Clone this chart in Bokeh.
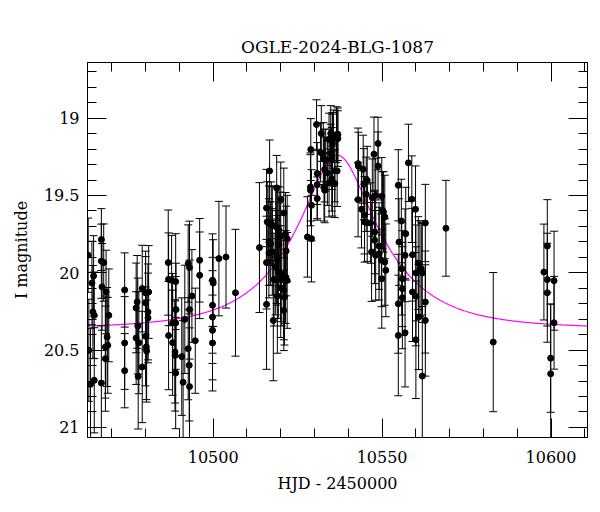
import numpy as np
from bokeh.plotting import figure
from bokeh.models import (Range1d, LinearAxis, FixedTicker, ColumnDataSource)
from bokeh.embed import file_html
from bokeh.resources import INLINE

title_text = "OGLE-2024-BLG-1087"
x_label = "HJD - 2450000"
y_label = "I magnitude"

hjd = [
    10463.0, 10464.1, 10464.6, 10464.4, 10464.8, 10463.2, 10463.7, 10464.8, 10466.9, 10466.9,
    10467.6, 10467.1, 10468.3, 10469.1, 10468.6, 10468.8, 10468.1, 10468.1, 10466.9,
    10473.8, 10473.8, 10473.8, 10477.2, 10477.5, 10479.0, 10480.0, 10480.9, 10477.7, 10477.2,
    10478.0, 10480.7, 10480.7, 10479.0, 10477.8, 10480.0, 10480.0, 10480.2, 10480.3,
    10486.7, 10486.8, 10487.7, 10488.9, 10489.0, 10488.0, 10488.9, 10486.8, 10488.0, 10488.7,
    10488.7, 10488.9, 10490.7, 10491.1, 10491.6, 10492.6, 10493.0, 10493.0, 10493.7, 10492.6,
    10492.9, 10493.0, 10494.7, 10496.0, 10496.0,
    10499.8, 10500.0, 10499.8, 10499.8, 10499.8, 10499.8, 10501.7, 10503.8, 10506.6, 10513.7,
    10515.8, 10516.7, 10516.0, 10516.5, 10517.2, 10517.5, 10516.5, 10517.0, 10515.8, 10516.5,
    10517.5, 10515.8, 10517.8, 10518.0, 10518.8, 10518.5, 10519.0, 10519.5, 10519.8, 10519.5,
    10518.8, 10519.0, 10518.5, 10519.3, 10519.0, 10520.0, 10520.0, 10520.3, 10520.0, 10520.9,
    10521.4, 10521.9, 10521.6, 10521.4, 10521.9, 10520.9, 10521.1, 10520.9,
    10527.9, 10529.1, 10528.9, 10528.8, 10528.8, 10529.1, 10530.6, 10530.8, 10530.8, 10530.8,
    10532.0, 10531.8, 10532.6, 10532.8, 10533.3, 10533.0, 10532.8, 10533.0, 10534.3, 10534.8,
    10535.3, 10535.6, 10535.3, 10534.8, 10535.1, 10533.8, 10535.1, 10534.3, 10535.3, 10536.0,
    10536.0, 10536.7, 10536.5, 10536.9, 10536.9,
    10542.9, 10543.0, 10542.9, 10543.9, 10544.4, 10544.6, 10544.8, 10544.8, 10545.6, 10545.3,
    10545.6, 10546.6, 10547.1, 10547.6, 10548.8, 10548.8, 10548.1, 10546.9, 10547.8, 10547.8,
    10548.1, 10549.1, 10549.1, 10549.9, 10550.1, 10550.4, 10550.8, 10549.8, 10550.8, 10551.1,
    10549.9,
    10554.8, 10555.7, 10555.0, 10557.0, 10556.8, 10555.8, 10556.0, 10556.0, 10556.0, 10554.8,
    10554.8, 10556.8, 10557.8, 10558.8, 10559.0, 10559.0, 10559.9, 10560.0, 10560.0, 10560.0,
    10560.7, 10561.2, 10561.6, 10561.9, 10560.8, 10561.9, 10562.8, 10562.8, 10562.8, 10568.9,
    10582.9, 10597.9, 10598.9, 10598.9, 10598.9, 10599.9, 10599.9, 10600.9, 10600.9,
]

mag = [
    19.886, 20.066, 20.020, 20.253, 20.275, 20.501, 20.721, 20.695, 19.785, 19.925,
    19.934, 20.091, 20.124, 20.275, 20.415, 20.469, 20.480, 20.555, 20.713,
    20.111, 20.454, 20.633, 20.227, 20.188, 20.102, 20.130, 20.124, 20.344, 20.422,
    20.452, 20.253, 20.292, 20.609, 20.670, 20.195, 20.411, 20.480, 20.506,
    19.934, 20.042, 20.048, 20.057, 20.238, 20.324, 20.324, 20.406, 20.452, 20.512,
    20.534, 20.648, 20.542, 20.708, 20.301, 19.940, 19.966, 20.238, 20.150, 20.491,
    20.598, 20.736, 20.439, 19.919, 20.016,
    20.048, 20.066, 20.210, 20.286, 20.372, 20.454, 19.908, 19.898, 20.129, 19.837,
    19.581, 19.341, 19.671, 19.678, 19.682, 19.693, 19.801, 19.811, 19.934, 19.872,
    19.865, 20.204, 20.308, 20.044, 19.451, 19.699, 19.710, 19.725, 19.768, 19.818,
    19.898, 19.919, 19.962, 19.995, 20.150, 19.524, 20.006, 20.044, 20.098, 19.613,
    19.751, 19.779, 19.859, 20.027, 20.049, 20.113, 20.157, 20.243,
    19.768, 19.779, 19.203, 19.445, 19.466, 19.563, 19.041, 19.358, 19.430, 19.520,
    19.099, 19.222, 19.229, 19.261, 19.272, 19.332, 19.445, 19.466, 19.138, 19.099,
    19.143, 19.117, 19.164, 19.229, 19.261, 19.354, 19.391, 19.419, 19.423, 19.423,
    19.341, 19.341, 19.106, 19.104, 19.132,
    19.294, 19.311, 19.527, 19.589, 19.330, 19.427, 19.628, 19.671, 19.402, 19.492,
    19.676, 19.678, 19.514, 19.233, 19.164, 19.309, 19.499, 19.865, 19.736, 19.790,
    19.887, 19.876, 19.827, 19.505, 19.596, 19.606, 19.639, 19.919, 19.930, 19.984,
    20.038,
    19.434, 19.665, 19.801, 19.747, 19.887, 19.973, 20.038, 20.103, 20.161, 20.200,
    20.405, 20.388, 19.289, 19.524, 19.883, 20.124, 19.589, 20.001, 20.152, 20.433,
    19.937, 19.973, 19.973, 20.001, 20.286, 20.668, 19.678, 20.189, 20.308, 19.712,
    20.448, 19.995, 19.827, 20.044, 20.129, 20.552, 20.653, 20.051, 20.323,
]

err = [
    0.24, 0.27, 0.26, 0.30, 0.28, 0.33, 0.36, 0.34, 0.20, 0.24,
    0.25, 0.28, 0.27, 0.30, 0.32, 0.31, 0.33, 0.34, 0.37,
    0.24, 0.30, 0.24, 0.29, 0.30, 0.28, 0.27, 0.30, 0.31, 0.30,
    0.33, 0.31, 0.29, 0.36, 0.34, 0.30, 0.32, 0.34, 0.33,
    0.34, 0.30, 0.29, 0.31, 0.30, 0.32, 0.30, 0.35, 0.34, 0.33,
    0.36, 0.36, 0.38, 0.40, 0.35, 0.25, 0.30, 0.32, 0.30, 0.33,
    0.36, 0.38, 0.34, 0.27, 0.28,
    0.30, 0.28, 0.31, 0.30, 0.32, 0.31, 0.37, 0.33, 0.41, 0.42,
    0.25, 0.20, 0.26, 0.24, 0.27, 0.25, 0.28, 0.27, 0.30, 0.29,
    0.28, 0.42, 0.39, 0.30, 0.21, 0.26, 0.27, 0.28, 0.29, 0.27,
    0.30, 0.29, 0.31, 0.30, 0.37, 0.24, 0.31, 0.30, 0.32, 0.29,
    0.27, 0.28, 0.29, 0.30, 0.31, 0.32, 0.31, 0.26,
    0.26, 0.28, 0.20, 0.22, 0.23, 0.23, 0.16, 0.20, 0.22, 0.14,
    0.18, 0.19, 0.20, 0.19, 0.20, 0.21, 0.22, 0.21, 0.17, 0.18,
    0.18, 0.17, 0.19, 0.19, 0.20, 0.21, 0.21, 0.22, 0.21, 0.22,
    0.20, 0.23, 0.18, 0.17, 0.18,
    0.23, 0.22, 0.24, 0.25, 0.22, 0.23, 0.25, 0.26, 0.22, 0.24,
    0.25, 0.26, 0.25, 0.24, 0.17, 0.22, 0.24, 0.32, 0.27, 0.28,
    0.29, 0.30, 0.28, 0.25, 0.25, 0.26, 0.27, 0.30, 0.28, 0.30,
    0.32,
    0.23, 0.27, 0.28, 0.30, 0.30, 0.30, 0.31, 0.30, 0.33, 0.32,
    0.39, 0.35, 0.25, 0.28, 0.30, 0.32, 0.28, 0.31, 0.32, 0.38,
    0.30, 0.31, 0.30, 0.32, 0.34, 0.45, 0.25, 0.33, 0.36, 0.31,
    0.45, 0.31, 0.30, 0.30, 0.32, 0.35, 0.45, 0.32, 0.30,
]

# Point-lens (Paczynski) model parameters
t0 = 10536.8
tE = 24.0
u0 = 0.375
I0 = 20.36
fs = 1.0

x_major = [10500, 10550, 10600]
x_minor = list(range(10460, 10620, 10))
y_major = [19, 19.5, 20, 20.5, 21]
y_minor = [round(18.6 + 0.1 * i, 1) for i in range(26)]

hjd_a = np.array(hjd)
mag_a = np.array(mag)
err_a = np.array(err)
src = ColumnDataSource(dict(x=hjd_a, y=mag_a, lo=mag_a + err_a, hi=mag_a - err_a))

tm = np.linspace(10455, 10620, 800)
u = np.sqrt(u0 ** 2 + ((tm - t0) / tE) ** 2)
A = (u ** 2 + 2) / (u * np.sqrt(u ** 2 + 4))
model_mag = I0 - 2.5 * np.log10(fs * A + 1 - fs)

FONT = "DejaVu Serif"

p = figure(width=600, height=512, output_backend="svg", toolbar_location=None,
           x_range=Range1d(10462.8, 10610.8), y_range=Range1d(21.065, 18.64),
           min_border_left=87, min_border_right=13, min_border_top=62, min_border_bottom=75,
           background_fill_color="white", border_fill_color="white")
p.grid.visible = False
p.outline_line_color = "black"
p.outline_line_width = 1

p.title.text = title_text
p.title.align = "center"
p.title.vertical_align = "top"
p.title.text_font = FONT
p.title.text_font_style = "normal"
p.title.text_font_size = "17px"
p.title.text_color = "black"
p.title.standoff = 7

xt = FixedTicker(ticks=x_major, minor_ticks=x_minor)
yt = FixedTicker(ticks=y_major, minor_ticks=y_minor)


def style(ax, labels=True):
    ax.major_tick_in = 19
    ax.major_tick_out = 0
    ax.minor_tick_in = 9
    ax.minor_tick_out = 0
    ax.major_tick_line_color = "black"
    ax.minor_tick_line_color = "black"
    ax.axis_line_color = "black"
    ax.major_label_text_font = FONT
    ax.axis_label_text_font = FONT
    ax.axis_label_text_font_style = "normal"
    ax.axis_label_text_color = "black"
    ax.axis_label_text_font_size = "16px"
    if labels:
        ax.major_label_text_font_size = "16px"
        ax.major_label_text_color = "black"
    else:
        # frame-only axis: ticks drawn, tick labels not drawn
        ax.major_label_text_font_size = "1px"
        ax.major_label_text_color = None
        ax.major_label_standoff = 0


p.xaxis.ticker = xt
p.yaxis.ticker = yt
style(p.xaxis[0])
style(p.yaxis[0])
p.xaxis.axis_label = x_label
p.yaxis.axis_label = y_label
p.xaxis.major_label_standoff = 13
p.yaxis.major_label_standoff = 8
p.xaxis.axis_label_standoff = 8
p.yaxis.axis_label_standoff = 10
p.yaxis.major_label_orientation = "horizontal"

ax_top = LinearAxis(ticker=xt)
style(ax_top, labels=False)
p.add_layout(ax_top, "above")
ax_right = LinearAxis(ticker=yt)
style(ax_right, labels=False)
p.add_layout(ax_right, "right")

p.line(tm, model_mag, line_color="#ff00ff", line_width=1.2)
p.segment(x0="x", y0="lo", x1="x", y1="hi", source=src, line_color="black", line_width=1)
p.dash(x="x", y="lo", source=src, size=8, line_color="black", line_width=1)
p.dash(x="x", y="hi", source=src, size=8, line_color="black", line_width=1)
p.scatter(x="x", y="y", source=src, size=6, fill_color="black", line_color="black")

open("out.html", "w").write(file_html(p, INLINE))
